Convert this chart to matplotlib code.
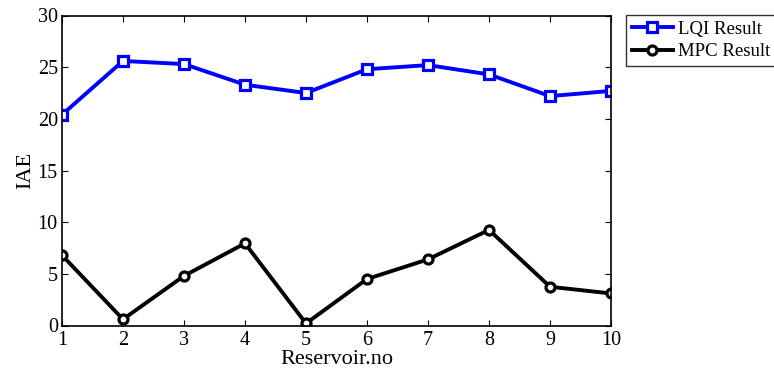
import matplotlib
matplotlib.use("Agg")
import matplotlib.pyplot as plt

reservoir = [1, 2, 3, 4, 5, 6, 7, 8, 9, 10]
lqi_iae = [20.4, 25.6, 25.3, 23.3, 22.5, 24.8, 25.2, 24.3, 22.2, 22.7]
mpc_iae = [6.8, 0.6, 4.8, 7.95, 0.2, 4.5, 6.4, 9.25, 3.75, 3.1]

plt.rcParams["font.family"] = ["Liberation Serif", "DejaVu Serif"]
plt.rcParams["font.size"] = 14

fig = plt.figure(figsize=(7.74, 3.69), dpi=100)
ax = fig.add_axes([62 / 774, 1 - 325.5 / 369, (611 - 62) / 774, (325.5 - 15.5) / 369])

ax.plot(reservoir, lqi_iae, "-s", color="#0000ff", lw=2.8, ms=6.5,
        mfc="white", mec="#0000ff", mew=2.3, label="LQI Result")
ax.plot(reservoir, mpc_iae, "-o", color="black", lw=2.8, ms=6.5,
        mfc="white", mec="black", mew=2.3, label="MPC Result")

ax.set_xlim(1, 10)
ax.set_ylim(0, 30)
ax.set_xticks(reservoir)
ax.set_yticks(range(0, 31, 5))
ax.tick_params(direction="in", top=True, right=True, length=4, labelsize=14.5)
ax.tick_params(axis="x", pad=4)
ax.tick_params(axis="y", pad=3)
for s in ax.spines.values():
    s.set_linewidth(1.2)
ax.set_xlabel("Reservoir.no", fontsize=16, labelpad=0)
ax.set_ylabel("IAE", fontsize=16, labelpad=2)

leg = ax.legend(loc="upper left", bbox_to_anchor=(626 / 774, 1 - 15 / 369),
                bbox_transform=fig.transFigure, frameon=True, fancybox=False,
                edgecolor="black", borderaxespad=0, handlelength=2.2,
                handletextpad=0.3, borderpad=0.3, labelspacing=0.3,
                fontsize=13.5)
leg.get_frame().set_linewidth(1.0)

fig.savefig("out.png", dpi=100)
